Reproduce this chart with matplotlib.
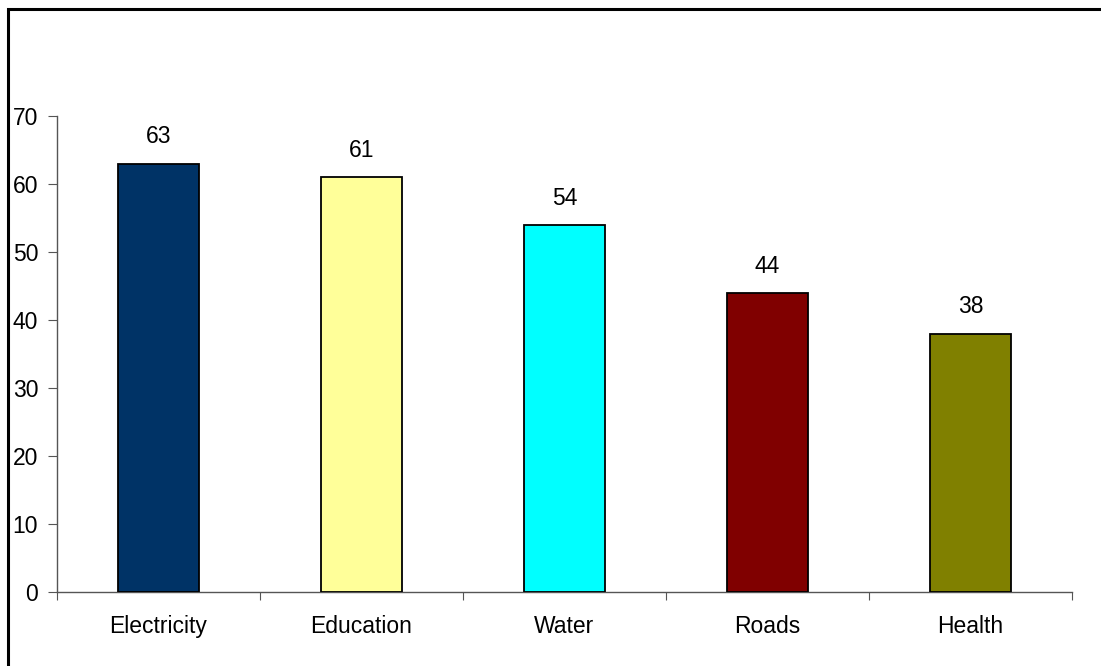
import matplotlib
matplotlib.use("Agg")
import matplotlib.pyplot as plt
from matplotlib.patches import Rectangle

categories = ["Electricity", "Education", "Water", "Roads", "Health"]
values = [63, 61, 54, 44, 38]
colors = ["#003366", "#FFFF99", "#00FFFF", "#800000", "#808000"]
yticks = [0, 10, 20, 30, 40, 50, 60, 70]

plt.rcParams['font.family'] = ['Liberation Sans', 'DejaVu Sans']

W, H = 1101, 666
FS = 16.5
fig = plt.figure(figsize=(W / 100, H / 100), dpi=100)
ax = fig.add_axes([57 / W, (H - 592) / H, (1072 - 57) / W, (592 - 116) / H])

x = list(range(len(categories)))
bars = ax.bar(x, values, width=0.4, color=colors, edgecolor="black", linewidth=1.3, zorder=3)
for xi, v in zip(x, values):
    ax.annotate(str(v), (xi, v), xytext=(0, 14.5), textcoords="offset points",
                ha="center", va="baseline", fontsize=FS)

ax.set_xlim(-0.5, len(categories) - 0.5)
ax.set_ylim(0, 70)
ax.set_yticks(yticks)
ax.set_yticklabels([str(t) for t in yticks], fontsize=FS)
ax.set_xticks([i + 0.5 for i in range(-1, len(categories))], minor=False)
ax.set_xticklabels([])
ax.set_xticks(x, minor=True)
ax.set_xticklabels(categories, minor=True, fontsize=FS)
ax.tick_params(axis="x", which="major", direction="out", length=6, color="#555555")
ax.tick_params(axis="x", which="minor", length=0, pad=16.5)
ax.tick_params(axis="y", direction="out", length=6.5, pad=7, color="#555555")

for s in ["top", "right"]:
    ax.spines[s].set_visible(False)
for s in ["left", "bottom"]:
    ax.spines[s].set_color("#555555")
    ax.spines[s].set_linewidth(1.0)

fig.patches.append(Rectangle((8 / W, -0.1), 1.2, 1 - 9 / H + 0.1, transform=fig.transFigure,
                             fill=False, edgecolor="black", linewidth=2.2))

fig.savefig("out.png", dpi=100)
